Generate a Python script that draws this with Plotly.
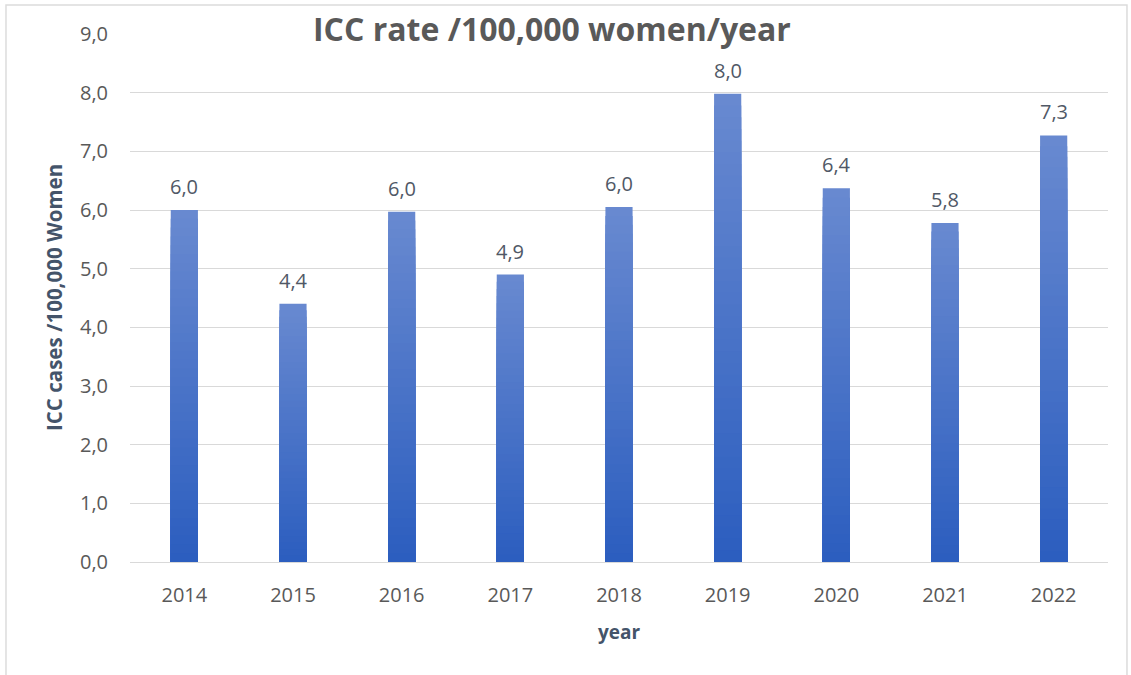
import plotly.graph_objects as go

# ICC incidence per 100,000 women, by year
years = ["2014", "2015", "2016", "2017", "2018", "2019", "2020", "2021", "2022"]
rates = [6.0, 4.4, 5.97, 4.9, 6.05, 7.98, 6.37, 5.78, 7.27]

y_ticks = [0, 1, 2, 3, 4, 5, 6, 7, 8, 9]

FONT = "Open Sans"
TEXT_GREY = "#595959"
TITLE_BLUEGREY = "#44546a"
TOP_COLOR = (104, 137, 208)
BOTTOM_COLOR = (44, 94, 191)
STEPS = 40


def mix(a, b, t):
    return "rgb({},{},{})".format(*[round(a[i] + (b[i] - a[i]) * t) for i in range(3)])


fig = go.Figure()

# Vertical gradient: stacked overlays of shrinking, progressively darker bars
for k in range(STEPS):
    frac = 1 - k / STEPS
    fig.add_trace(go.Bar(
        x=years,
        y=[v * frac for v in rates],
        marker=dict(color=mix(TOP_COLOR, BOTTOM_COLOR, k / (STEPS - 1)), line=dict(width=0)),
        hoverinfo="skip" if k else "x+y",
        showlegend=False,
    ))

annotations = []
# Value labels above each bar (category index positions)
for i, v in enumerate(rates):
    annotations.append(dict(
        x=i, y=v, xref="x", yref="y",
        text=f"{v:.1f}".replace(".", ","),
        showarrow=False, yanchor="bottom", yshift=8,
        font=dict(family=FONT, size=20, color="#505866"),
    ))

annotations += [
    dict(text="<b>ICC rate /100,000 women/year</b>", x=0.4315, y=1.0095,
         xref="paper", yref="paper", xanchor="center", yanchor="middle",
         showarrow=False, font=dict(family=FONT, size=32, color=TEXT_GREY)),
    dict(text="<b>ICC cases /100,000 Women</b>", x=-0.0777, y=0.5,
         xref="paper", yref="paper", xanchor="center", yanchor="middle",
         textangle=-90, showarrow=False,
         font=dict(family=FONT, size=20.5, color=TITLE_BLUEGREY)),
    dict(text="<b>year</b>", x=0.5, y=-0.1326,
         xref="paper", yref="paper", xanchor="center", yanchor="middle",
         showarrow=False, font=dict(family=FONT, size=19, color=TITLE_BLUEGREY)),
]

fig.update_layout(
    width=1131, height=675,
    margin=dict(l=130, r=23, t=34, b=113),
    paper_bgcolor="white", plot_bgcolor="white",
    barmode="overlay", bargap=0.75,
    separators=",.",
    font=dict(family=FONT, color=TEXT_GREY),
    annotations=annotations,
    shapes=[dict(type="rect", xref="paper", yref="paper",
                 x0=-0.1268, x1=1.0194, y0=-0.25, y1=1.0549,
                 line=dict(color="#dcdcdc", width=1.5), layer="below")],
)

fig.update_xaxes(
    type="category", range=[-0.5, len(years) - 0.5],
    showgrid=False, showline=False, zeroline=False,
    tickfont=dict(family=FONT, size=20, color=TEXT_GREY),
    ticks="", ticklabelstandoff=19,
)
fig.update_yaxes(
    range=[0, 9], tickvals=y_ticks, tickformat=".1f",
    showgrid=True, gridcolor="#d9d9d9", gridwidth=1,
    zeroline=True, zerolinecolor="#d9d9d9", zerolinewidth=1,
    showline=False, ticks="", ticklabelstandoff=21,
    tickfont=dict(family=FONT, size=20, color=TEXT_GREY),
)

fig.write_html("out.html")
